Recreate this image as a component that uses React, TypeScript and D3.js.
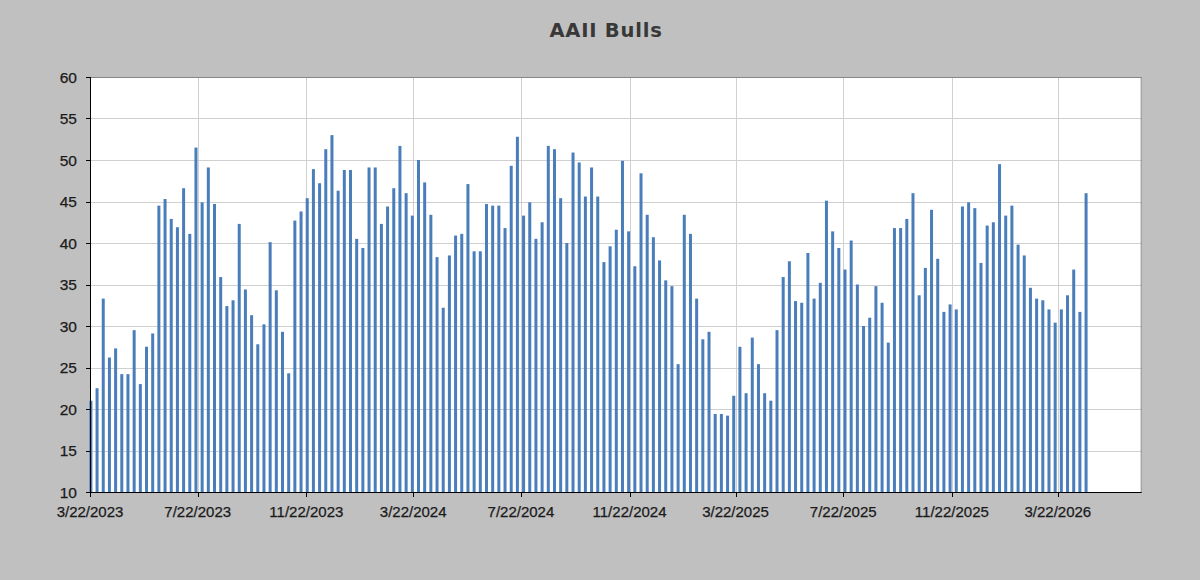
import React from "react";
import * as d3 from "d3";

const TITLE = "AAII Bulls";
const FIRST_WEEK = "2023-03-23";
const AXIS_START = "2023-03-22";
const AXIS_END = "2026-06-25";
const X_TICKS = ["3/22/2023", "7/22/2023", "11/22/2023", "3/22/2024", "7/22/2024", "11/22/2024", "3/22/2025", "7/22/2025", "11/22/2025", "3/22/2026"];
const Y_TICKS = [10, 15, 20, 25, 30, 35, 40, 45, 50, 55, 60];
const BULLS = [
  21.0, 22.5, 33.3, 26.2, 27.3, 24.2, 24.2, 29.5, 23.0, 27.5, 29.1, 44.5, 45.3, 42.9, 41.9, 46.6, 41.1, 51.5, 44.9, 49.1,
  44.7, 35.9, 32.4, 33.1, 42.3, 34.4, 31.3, 27.8, 30.2, 40.1, 34.3, 29.3, 24.3, 42.7, 43.8, 45.4, 48.9, 47.2, 51.3, 53.0,
  46.3, 48.8, 48.8, 40.5, 39.4, 49.1, 49.1, 42.3, 44.4, 46.6, 51.7, 46.0, 43.3, 50.0, 47.3, 43.4, 38.3, 32.2, 38.5, 40.9,
  41.1, 47.1, 39.0, 39.0, 44.7, 44.5, 44.5, 41.8, 49.3, 52.8, 43.3, 44.9, 40.5, 42.5, 51.7, 51.3, 45.4, 40.0, 50.9, 49.7,
  45.6, 49.1, 45.6, 37.7, 39.6, 41.6, 49.9, 41.4, 37.2, 48.4, 43.4, 40.7, 37.9, 35.5, 34.8, 25.4, 43.4, 41.1, 33.3, 28.4,
  29.3, 19.4, 19.4, 19.2, 21.6, 27.5, 21.9, 28.6, 25.4, 21.9, 21.0, 29.5, 35.9, 37.8, 33.0, 32.8, 38.8, 33.3, 35.2, 45.1,
  41.4, 39.4, 36.8, 40.3, 35.0, 30.0, 31.0, 34.8, 32.8, 28.0, 41.8, 41.8, 42.9, 46.0, 33.7, 37.0, 44.0, 38.1, 31.7, 32.6,
  32.0, 44.4, 44.9, 44.2, 37.6, 42.1, 42.5, 49.5, 43.3, 44.5, 39.8, 38.5, 34.6, 33.3, 33.1, 32.0, 30.4, 32.0, 33.7, 36.8,
  31.7, 46.0,
];

const W = 1200;
const H = 580;
const M = { left: 90, right: 1141.7, top: 77, bottom: 492 };

export default function App() {
  const parseIso = d3.utcParse("%Y-%m-%d");
  const parseTick = d3.utcParse("%m/%d/%Y");
  const start = parseIso(FIRST_WEEK) as Date;
  const data = BULLS.map((v, i) => ({ date: d3.utcDay.offset(start, 7 * i), value: v }));

  const x = d3.scaleUtc().domain([parseIso(AXIS_START) as Date, parseIso(AXIS_END) as Date]).range([M.left, M.right]);
  const y = d3.scaleLinear().domain([10, 60]).range([M.bottom, M.top]);
  const ticks = X_TICKS.map((t) => ({ label: t, date: parseTick(t) as Date }));
  const barW = 3;
  const labelFont = "'Liberation Sans', Arial, sans-serif";

  return (
    <svg width={W} height={H} style={{ position: "absolute", left: 0, top: 0 }}>
      <rect x={0} y={0} width={W} height={H} fill="#c0c0c0" />
      <text x={606} y={36.5} textAnchor="middle" fontFamily="'DejaVu Sans', Verdana, sans-serif" fontWeight="bold" fontSize={19.5} letterSpacing={0.8} fill="#383838">
        {TITLE}
      </text>
      <rect x={M.left} y={M.top} width={M.right - M.left} height={M.bottom - M.top} fill="#ffffff" />
      {Y_TICKS.filter((t) => t !== 10 && t !== 60).map((t) => (
        <line key={"gy" + t} x1={M.left} x2={M.right} y1={Math.round(y(t)) + 0.5} y2={Math.round(y(t)) + 0.5} stroke="#d0d0d0" strokeWidth={1} />
      ))}
      {ticks.slice(1).map((t) => (
        <line key={"gx" + t.label} x1={Math.round(x(t.date)) + 0.5} x2={Math.round(x(t.date)) + 0.5} y1={M.top} y2={M.bottom} stroke="#d0d0d0" strokeWidth={1} />
      ))}
      {data.map((d, i) => (
        <rect key={i} x={x(d.date) - barW / 2} y={y(d.value)} width={barW} height={y(10) - y(d.value)} fill="#4a7ebb" />
      ))}
      <line x1={M.left} x2={M.right} y1={M.top + 0.5} y2={M.top + 0.5} stroke="#868686" />
      <line x1={M.right - 0.5} x2={M.right - 0.5} y1={M.top} y2={M.bottom} stroke="#868686" />
      <line x1={M.left + 0.5} x2={M.left + 0.5} y1={M.top} y2={M.bottom + 0.5} stroke="#000" />
      <line x1={M.left} x2={M.right} y1={M.bottom + 0.5} y2={M.bottom + 0.5} stroke="#000" />
      {Y_TICKS.map((t) => (
        <g key={"yt" + t}>
          <line x1={M.left - 4} x2={M.left} y1={Math.round(y(t)) + 0.5} y2={Math.round(y(t)) + 0.5} stroke="#000" />
          <text x={77} y={y(t) + 5.5} textAnchor="end" fontFamily={labelFont} fontSize={15.5} fill="#1a1a1a" stroke="#1a1a1a" strokeWidth={0.25}>
            {t}
          </text>
        </g>
      ))}
      {ticks.map((t) => (
        <g key={"xt" + t.label}>
          <line x1={Math.round(x(t.date)) + 0.5} x2={Math.round(x(t.date)) + 0.5} y1={M.bottom} y2={M.bottom + 5} stroke="#000" />
          <text x={x(t.date)} y={516.5} textAnchor="middle" fontFamily={labelFont} fontSize={15} fill="#1a1a1a" stroke="#1a1a1a" strokeWidth={0.25}>
            {t.label}
          </text>
        </g>
      ))}
    </svg>
  );
}
